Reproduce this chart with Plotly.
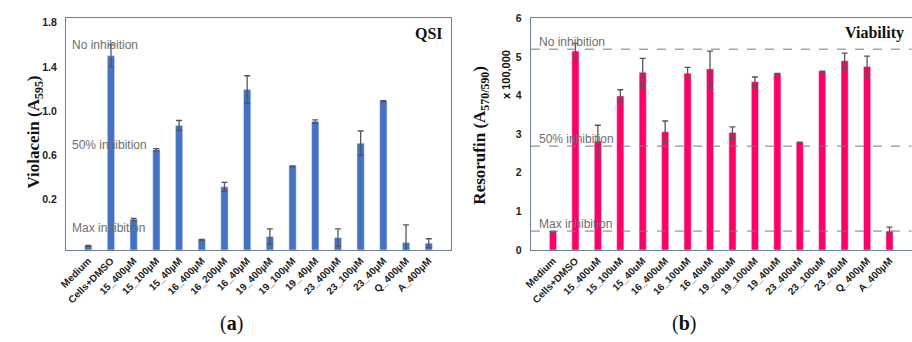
import plotly.graph_objects as go

# ---- data ----
cats_a = ["Medium", "Cells+DMSO", "15_400µM", "15_100µM", "15_40µM", "16_400µM",
          "16_200µM", "16_40µM", "19_400µM", "19_100µM", "19_40µM", "23_400µM",
          "23_100µM", "23_40µM", "Q_400µM", "A_400µM"]
vals_a = [-0.22, 1.50, 0.02, 0.65, 0.87, -0.165, 0.315, 1.195, -0.135, 0.50, 0.905,
          -0.145, 0.71, 1.09, -0.19, -0.195]
err_a = [0.005, 0.10, 0.01, 0.01, 0.045, 0.005, 0.04, 0.125, 0.07, 0.005, 0.015,
         0.08, 0.11, 0.005, 0.16, 0.04]

cats_b = ["Medium", "Cells+DMSO", "15_400uM", "15_100uM", "15_40uM", "16_400uM",
          "16_100uM", "16_40uM", "19_400uM", "19_100uM", "19_40uM", "23_400uM",
          "23_100uM", "23_40uM", "Q_400µM", "A_400µM"]
vals_b = [0.47, 5.15, 2.82, 3.99, 4.60, 3.06, 4.58, 4.69, 3.04, 4.36, 4.56, 2.78,
          4.62, 4.90, 4.75, 0.49]
err_b = [0.01, 0.20, 0.41, 0.16, 0.36, 0.28, 0.15, 0.46, 0.15, 0.12, 0.01, 0.01,
         0.01, 0.20, 0.27, 0.10]

ref_labels = ["No inhibition", "50% inhibition", "Max inhibition"]
ref_a = [1.60, 0.69, -0.06]
ref_b = [5.2, 2.69, 0.49]

ticks_a = [0.2, 0.6, 1.0, 1.4, 1.8]
ticks_b = [0, 1, 2, 3, 4, 5, 6]

range_a = [-0.257, 1.84]
range_b = [0, 6]

# ---- styling ----
BLUE = "#4472C4"
PINK = "#FF0066"
ERR = "#555555"
FRAME = "#6f819a"
SANS = "Liberation Sans, Arial, sans-serif"
SERIF = "Liberation Serif, Times New Roman, serif"

fig = go.Figure()

base_a = range_a[0]
fig.add_trace(go.Bar(x=cats_a, y=[v - base_a for v in vals_a], base=base_a,
                     marker_color=BLUE, width=0.32, xaxis="x", yaxis="y",
                     showlegend=False, hoverinfo="skip"))
fig.add_trace(go.Scatter(x=cats_a, y=vals_a, mode="markers", marker=dict(size=0.1, color=ERR),
                         error_y=dict(type="data", array=err_a, color=ERR, thickness=1.3, width=3),
                         xaxis="x", yaxis="y", showlegend=False, hoverinfo="skip"))

fig.add_trace(go.Bar(x=cats_b, y=vals_b, marker_color=PINK, width=0.32,
                     xaxis="x2", yaxis="y2", showlegend=False, hoverinfo="skip"))
fig.add_trace(go.Scatter(x=cats_b, y=vals_b, mode="markers", marker=dict(size=0.1, color=ERR),
                         error_y=dict(type="data", array=err_b, color=ERR, thickness=1.3, width=3),
                         xaxis="x2", yaxis="y2", showlegend=False, hoverinfo="skip"))

shapes = []
for v in ref_b:
    shapes.append(dict(type="line", xref="x2 domain", yref="y2", x0=0, x1=1, y0=v, y1=v,
                       line=dict(color="#7a7a7a", width=1, dash="dash"), layer="above"))

ann = []
for lab, v in zip(ref_labels, ref_a):
    ann.append(dict(text=lab, xref="x domain", yref="y", x=0.01, y=v, xanchor="left",
                    yanchor="middle", showarrow=False,
                    font=dict(family=SANS, size=12, color="#6e6e6e")))
for lab, v in zip(ref_labels, ref_b):
    ann.append(dict(text=lab, xref="x2 domain", yref="y2", x=0.015, y=v, xanchor="left",
                    yanchor="bottom", yshift=-2, showarrow=False,
                    font=dict(family=SANS, size=12, color="#6e6e6e")))

ann += [
    dict(text="<b>QSI</b>", xref="x domain", yref="y domain", x=0.985, y=0.98, xanchor="right",
         yanchor="top", showarrow=False, font=dict(family=SERIF, size=16, color="#111")),
    dict(text="<b>Viability</b>", xref="x2 domain", yref="y2 domain", x=0.985, y=0.985,
         xanchor="right", yanchor="top", showarrow=False,
         font=dict(family=SERIF, size=16, color="#111")),
    dict(text="<b>Violacein (A<sub>595</sub>)</b>", xref="paper", yref="paper", x=0.024,
         y=0.615, textangle=-90, showarrow=False, font=dict(family=SERIF, size=17, color="#111")),
    dict(text="<b>Resorufin (A<sub>570/590</sub>)</b>", xref="paper", yref="paper", x=0.528,
         y=0.605, textangle=-90, showarrow=False, font=dict(family=SERIF, size=17, color="#111")),
    dict(text="<b>x 100,000</b>", xref="paper", yref="paper", x=0.5555, y=0.86, textangle=-90,
         showarrow=False, font=dict(family=SANS, size=11, color="#111")),
    dict(text="(<b>a</b>)", xref="paper", yref="paper", x=0.239, y=0.055, showarrow=False,
         yanchor="middle", font=dict(family=SERIF, size=20, color="#111")),
    dict(text="(<b>b</b>)", xref="paper", yref="paper", x=0.765, y=0.055, showarrow=False,
         yanchor="middle", font=dict(family=SERIF, size=20, color="#111")),
]

xcommon = dict(type="category", tickangle=-45, showline=True, linecolor=FRAME, linewidth=1.3,
               mirror=True, ticks="", showgrid=False, automargin=False,
               tickfont=dict(family=SANS, size=10, color="#222", weight="bold"))
ycommon = dict(showline=True, linecolor=FRAME, linewidth=1.3, mirror=True, ticks="",
               showgrid=False, zeroline=False, automargin=False, ticklabelstandoff=6,
               tickfont=dict(family=SANS, size=10.5, color="#222", weight="bold"))

fig.update_layout(
    width=912, height=342,
    margin=dict(l=0, r=0, t=0, b=0),
    paper_bgcolor="white", plot_bgcolor="white",
    bargap=0.6,
    xaxis=dict(domain=[0.0724, 0.4945], anchor="y", **xcommon),
    yaxis=dict(domain=[0.269, 0.9465], anchor="x", range=range_a, tickvals=ticks_a,
               ticktext=[f"{t:.1f}" for t in ticks_a], **ycommon),
    xaxis2=dict(domain=[0.5822, 0.9995], anchor="y2", **xcommon),
    yaxis2=dict(domain=[0.269, 0.9465], anchor="x2", range=range_b, tickvals=ticks_b, **ycommon),
    shapes=shapes,
    annotations=ann,
)

fig.write_html("out.html", config={"displayModeBar": False},
               post_script="document.body.style.margin='0px';document.body.style.overflow='hidden';")
